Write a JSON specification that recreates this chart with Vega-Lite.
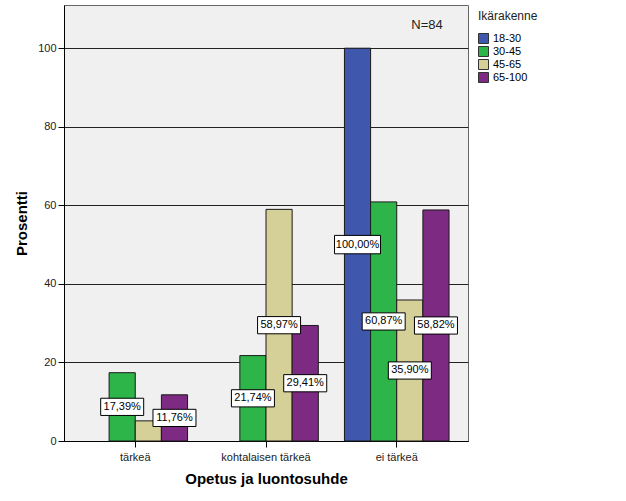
{
  "$schema": "https://vega.github.io/schema/vega-lite/v6.json",
  "width": 404,
  "height": 436,
  "autosize": {"type": "none"},
  "padding": {"left": 64, "top": 5, "right": 158, "bottom": 60},
  "background": "white",
  "view": {"fill": "#f0f0f0", "stroke": "#666", "strokeWidth": 1},
  "config": {
    "font": "Liberation Sans",
    "axis": {"labelFont": "Liberation Sans", "titleFont": "Liberation Sans", "labelColor": "#222", "domainColor": "#000", "tickColor": "#000"}
  },
  "data": {
    "values": [
      {"cat": "tärkeä", "age": "30-45", "value": 17.39, "label": "17,39%"},
      {"cat": "tärkeä", "age": "45-65", "value": 5.13, "label": null},
      {"cat": "tärkeä", "age": "65-100", "value": 11.76, "label": "11,76%"},
      {"cat": "kohtalaisen tärkeä", "age": "30-45", "value": 21.74, "label": "21,74%"},
      {"cat": "kohtalaisen tärkeä", "age": "45-65", "value": 58.97, "label": "58,97%"},
      {"cat": "kohtalaisen tärkeä", "age": "65-100", "value": 29.41, "label": "29,41%"},
      {"cat": "ei tärkeä", "age": "18-30", "value": 100, "label": "100,00%"},
      {"cat": "ei tärkeä", "age": "30-45", "value": 60.87, "label": "60,87%"},
      {"cat": "ei tärkeä", "age": "45-65", "value": 35.90, "label": "35,90%"},
      {"cat": "ei tärkeä", "age": "65-100", "value": 58.82, "label": "58,82%"}
    ]
  },
  "encoding": {
    "x": {
      "field": "cat", "type": "nominal",
      "sort": ["tärkeä", "kohtalaisen tärkeä", "ei tärkeä"],
      "scale": {"paddingInner": 0, "paddingOuter": 0.045},
      "axis": {"title": "Opetus ja luontosuhde", "titleFontSize": 15, "titleFontWeight": "bold", "titleColor": "#000", "labelAngle": 0, "labelFontSize": 11, "tickSize": 6, "labelPadding": 4, "titlePadding": 9}
    },
    "xOffset": {
      "field": "age", "type": "nominal",
      "scale": {"domain": ["18-30", "30-45", "45-65", "65-100"], "paddingInner": 0, "paddingOuter": 0.5}
    }
  },
  "layer": [
    {
      "mark": {"type": "bar", "stroke": "#1a1a1a", "strokeWidth": 1},
      "encoding": {
        "y": {
          "field": "value", "type": "quantitative",
          "scale": {"domain": [0, 111], "nice": false},
          "axis": {"values": [0, 20, 40, 60, 80, 100], "title": "Prosentti", "titleFontSize": 15, "titleFontWeight": "bold", "titleColor": "#000", "labelFontSize": 11, "tickSize": 6, "grid": true, "gridColor": "#222", "gridOpacity": 1, "gridWidth": 1, "titlePadding": 8}
        },
        "color": {
          "field": "age", "type": "nominal",
          "scale": {"domain": ["18-30", "30-45", "45-65", "65-100"], "range": ["#3f58ad", "#2eb54a", "#d5cf98", "#7c2a82"]},
          "legend": {
            "title": "Ikärakenne", "orient": "none", "legendX": 414, "legendY": 6,
            "titleFontSize": 12, "titleFontWeight": "normal", "titleColor": "#222",
            "labelFontSize": 11, "labelColor": "#000",
            "symbolType": "square", "symbolSize": 100, "symbolStrokeColor": "#333", "symbolStrokeWidth": 1,
            "rowPadding": -2, "titlePadding": 10, "padding": 0, "labelOffset": 4
          }
        }
      }
    },
    {
      "transform": [{"filter": "datum.label != null"}, {"calculate": "datum.value / 2", "as": "mid"}],
      "mark": {"type": "point", "shape": "M-1,-0.4H1V0.4H-1Z", "filled": true, "fill": "white", "stroke": "#000", "strokeWidth": 1, "opacity": 1},
      "encoding": {
        "y": {"field": "mid", "type": "quantitative"},
        "size": {"condition": {"test": "datum.value >= 100", "value": 2116}, "value": 1849}
      }
    },
    {
      "transform": [{"filter": "datum.label != null"}, {"calculate": "datum.value / 2", "as": "mid"}],
      "mark": {"type": "text", "fontSize": 11, "color": "#000", "font": "Liberation Sans"},
      "encoding": {
        "y": {"field": "mid", "type": "quantitative"},
        "text": {"field": "label"}
      }
    },
    {
      "data": {"values": [{"t": "N=84"}]},
      "mark": {"type": "text", "fontSize": 13, "color": "#222", "x": 363, "y": 20, "align": "center", "font": "Liberation Sans"},
      "encoding": {"text": {"field": "t"}, "x": null, "xOffset": null}
    }
  ]
}
